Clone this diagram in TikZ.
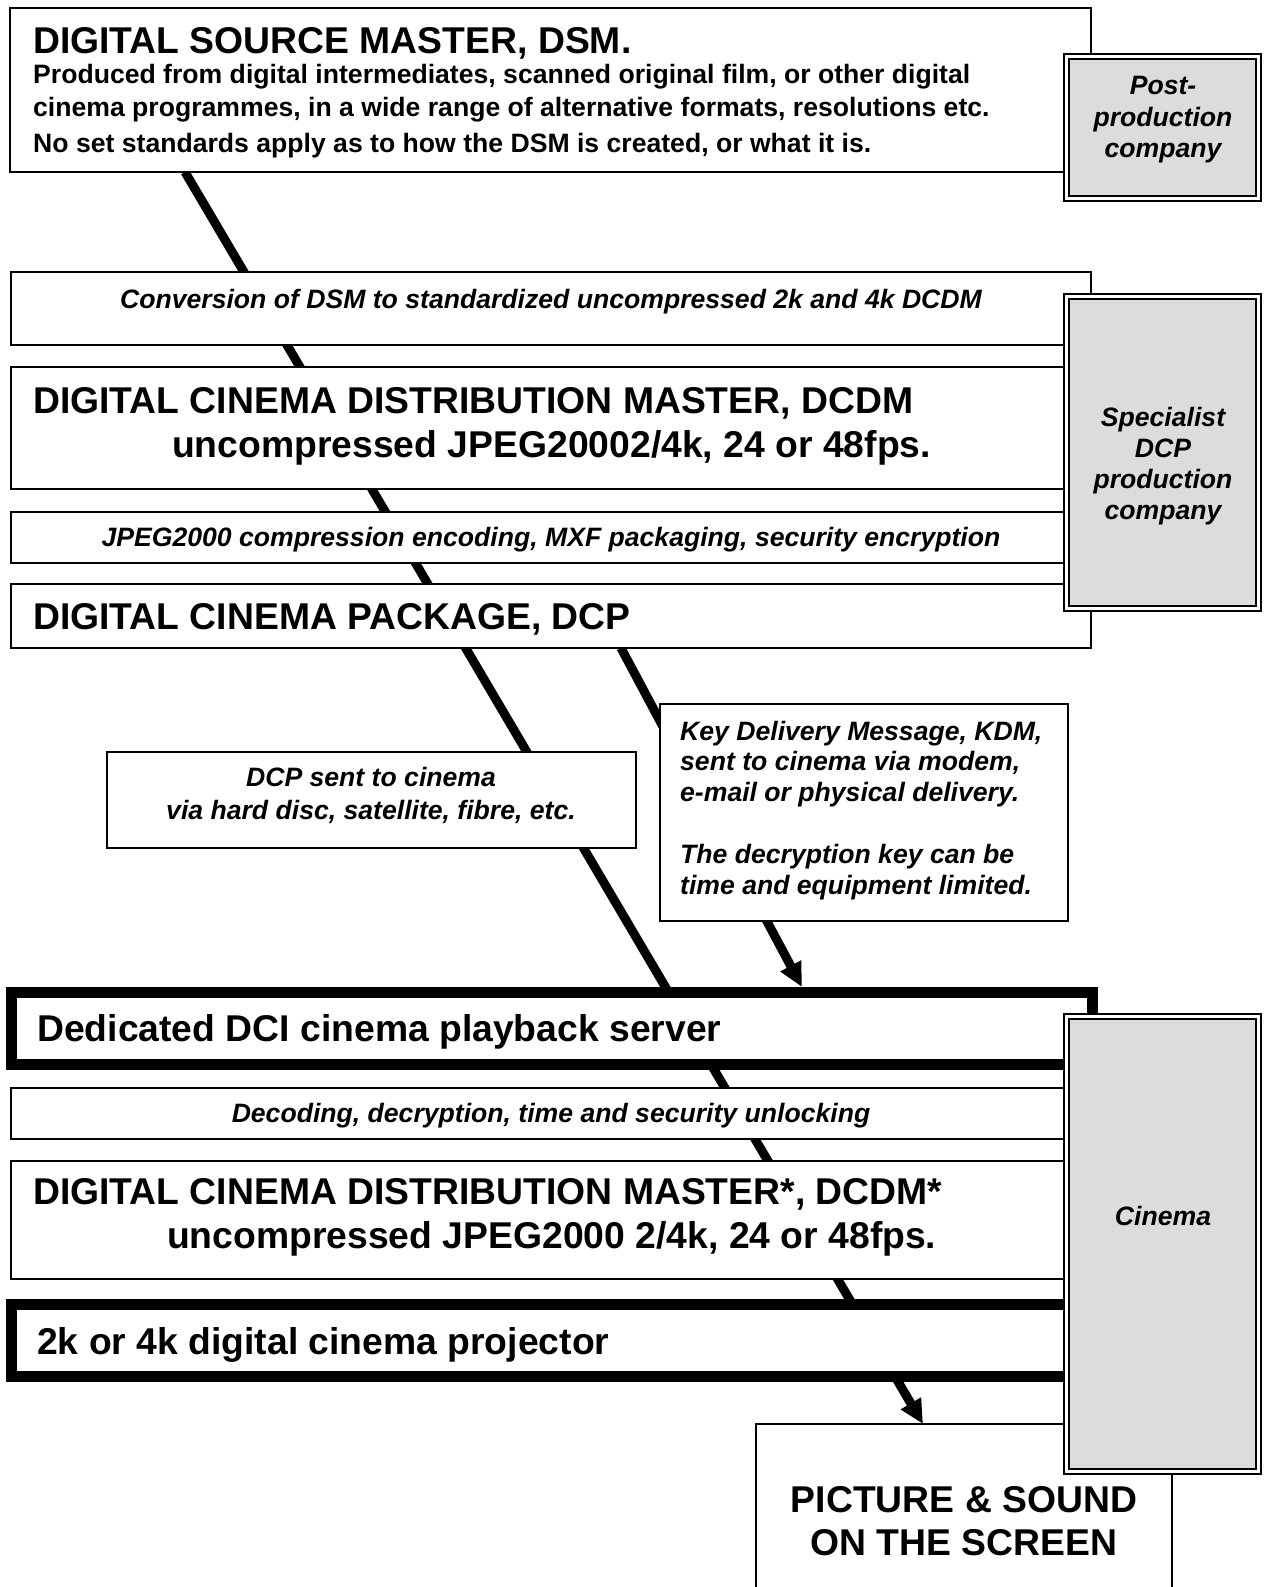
\documentclass[tikz,border=0pt]{standalone}
\usepackage{fontspec}
\setmainfont{Liberation Sans}
\usetikzlibrary{arrows.meta,calc}
\pgfdeclarelayer{paper}
\pgfdeclarelayer{behind}
\pgfsetlayers{paper,behind,main}
\definecolor{sidegray}{HTML}{DCDCDC}
\newcommand\mytitlefont{\bfseries\fontsize{37.3}{44}\selectfont}
\newcommand\mysubfont{\bfseries\fontsize{26.6}{32}\selectfont}
\newcommand\mylabfont{\bfseries\itshape\fontsize{26.6}{31}\selectfont}
\begin{document}
\begin{tikzpicture}[x=1pt,y=-1pt,
  tbox/.style={draw=black, line width=1.3pt, fill=white, inner sep=0pt, outer sep=0pt, anchor=north west},
  heavybox/.style={draw=black, line width=11pt, fill=white, inner sep=0pt, outer sep=0pt, anchor=north west},
  sidebox/.style={draw=black, line width=2.3pt, double=white, double distance=2.3pt, fill=sidegray, inner sep=0pt, outer sep=0pt, anchor=north west},
  txt/.style={inner sep=0pt, anchor=base west},
  ctxt/.style={inner sep=0pt, anchor=base},
  arr/.style={line width=9pt, -{Triangle[length=24pt,width=22pt]}}
]
\useasboundingbox (0,0) rectangle (1264,1587);
\begin{pgfonlayer}{paper}
\fill[white] (0,0) rectangle (1264,1587);
\end{pgfonlayer}

% main boxes
\node[tbox, minimum width=1081pt, minimum height=164pt] (dsm) at (10,8) {};
\node[tbox, minimum width=1080pt, minimum height=73pt] (conv) at (11,272) {};
\node[tbox, minimum width=1080pt, minimum height=122pt] (dcdm) at (11,367) {};
\node[tbox, minimum width=1080pt, minimum height=51pt] (jpeg) at (11,512) {};
\node[tbox, minimum width=1080pt, minimum height=64pt] (dcp) at (11,584) {};
\node[tbox, minimum width=529pt, minimum height=96pt] (sent) at (107,752) {};
\node[tbox, minimum width=408pt, minimum height=217pt] (kdm) at (660,704) {};
\node[heavybox, minimum width=1081pt, minimum height=72pt] (server) at (11,992) {};
\node[tbox, minimum width=1080pt, minimum height=51pt] (decode) at (11,1088) {};
\node[tbox, minimum width=1080pt, minimum height=118pt] (dcdmb) at (11,1161) {};
\node[heavybox, minimum width=1081pt, minimum height=72pt] (proj) at (11,1304) {};
\begin{scope}
\clip (0,0) rectangle (1264,1587);
\node[tbox, minimum width=416pt, minimum height=200pt] (pic) at (756,1424) {};
\end{scope}

% side boxes
\node[sidebox, minimum width=192pt, minimum height=142pt] (post) at (1066.5,56.5) {};
\node[sidebox, minimum width=192pt, minimum height=312pt] (spec) at (1066.5,296.5) {};
\node[sidebox, minimum width=192pt, minimum height=455pt] (cinema) at (1066.5,1016.5) {};

% texts
\node[txt, font=\mytitlefont] (dsmT) at (33,53) {DIGITAL SOURCE MASTER, DSM.};
\node[txt, font=\mysubfont] (dsmS1) at (33,84) {Produced from digital intermediates, scanned original film, or other digital};
\node[txt, font=\mysubfont] (dsmS2) at (33,116) {cinema programmes, in a wide range of alternative formats, resolutions etc.};
\node[txt, font=\mysubfont] (dsmS3) at (33,152) {No set standards apply as to how the DSM is created, or what it is.};
\node[ctxt, font=\mylabfont] (convT) at (551,308) {Conversion of DSM to standardized uncompressed 2k and 4k DCDM};
\node[txt, font=\mytitlefont] (dcdmT1) at (33,413) {DIGITAL CINEMA DISTRIBUTION MASTER, DCDM};
\node[txt, font=\mytitlefont] (dcdmT2) at (172,457) {uncompressed JPEG20002/4k, 24 or 48fps.};
\node[ctxt, font=\mylabfont] (jpegT) at (551,546) {JPEG2000 compression encoding, MXF packaging, security encryption};
\node[txt, font=\mytitlefont] (dcpT) at (33,629) {DIGITAL CINEMA PACKAGE, DCP};
\node[ctxt, font=\mylabfont] (sentT1) at (371,786) {DCP sent to cinema};
\node[ctxt, font=\mylabfont] (sentT2) at (371,819) {via hard disc, satellite, fibre, etc.};
\node[txt, font=\mylabfont] (kdmT1) at (680,740) {Key Delivery Message, KDM,};
\node[txt, font=\mylabfont] (kdmT2) at (680,770) {sent to cinema via modem,};
\node[txt, font=\mylabfont] (kdmT3) at (680,801) {e-mail or physical delivery.};
\node[txt, font=\mylabfont] (kdmT4) at (680,863) {The decryption key can be};
\node[txt, font=\mylabfont] (kdmT5) at (680,894) {time and equipment limited.};
\node[txt, font=\mytitlefont] (serverT) at (37,1041) {Dedicated DCI cinema playback server};
\node[ctxt, font=\mylabfont] (decT) at (551,1122) {Decoding, decryption, time and security unlocking};
\node[txt, font=\mytitlefont] (dcdmbT1) at (33,1204) {DIGITAL CINEMA DISTRIBUTION MASTER*, DCDM*};
\node[txt, font=\mytitlefont] (dcdmbT2) at (167,1248) {uncompressed JPEG2000 2/4k, 24 or 48fps.};
\node[txt, font=\mytitlefont] (projT) at (37,1354) {2k or 4k digital cinema projector};
\node[ctxt, font=\mytitlefont] (picT1) at (964,1512) {PICTURE \& SOUND};
\node[ctxt, font=\mytitlefont] (picT2) at (964,1555) {ON THE SCREEN};
\node[ctxt, font=\mylabfont] (postT1) at (1163,95) {Post-};
\node[ctxt, font=\mylabfont] (postT2) at (1163,126) {production};
\node[ctxt, font=\mylabfont] (postT3) at (1163,157) {company};
\node[ctxt, font=\mylabfont] (specT1) at (1163,426) {Specialist};
\node[ctxt, font=\mylabfont] (specT2) at (1163,457) {DCP};
\node[ctxt, font=\mylabfont] (specT3) at (1163,488) {production};
\node[ctxt, font=\mylabfont] (specT4) at (1163,519) {company};
\node[ctxt, font=\mylabfont] (cinT) at (1163,1225) {Cinema};

% connectors behind the boxes
\begin{pgfonlayer}{behind}
\draw[arr] ($(dsm.south west)+(175,0)$) -- ($(pic.north west)+(167,0)$);
\draw[arr] ($(dcp.south west)+(610,0)$) -- ($(server.north west)+(791,-5)$);
\end{pgfonlayer}
\end{tikzpicture}
\end{document}
